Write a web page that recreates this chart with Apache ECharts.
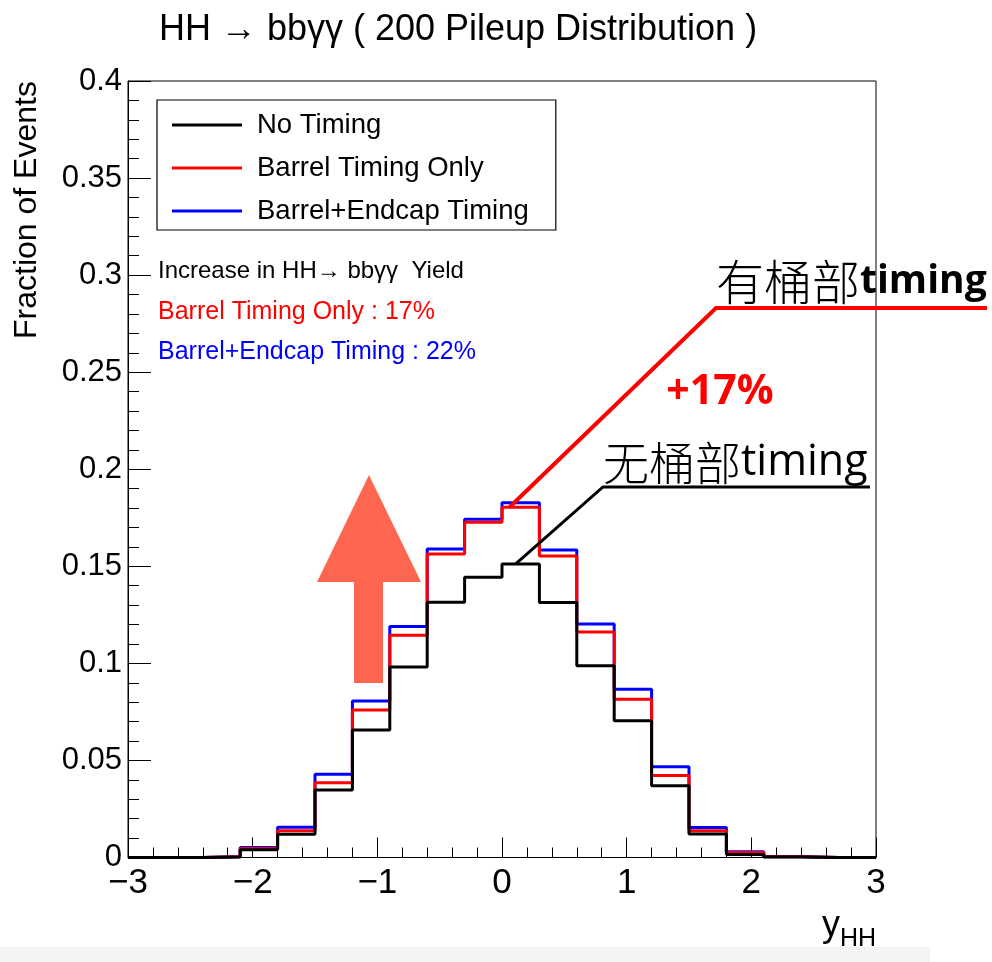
<!DOCTYPE html>
<html><head><meta charset="utf-8">
<script src="https://cdn.jsdelivr.net/npm/echarts@6/dist/echarts.min.js"></script>
<style>html,body{margin:0;padding:0;background:#fff}#c{width:992px;height:962px}</style>
</head><body><div id="c"></div>
<script>
// bin edges of y_HH histogram (width 0.3)
const binEdges = [-3,-2.7,-2.4,-2.1,-1.8,-1.5,-1.2,-0.9,-0.6,-0.3,0,0.3,0.6,0.9,1.2,1.5,1.8,2.1,2.4,2.7,3];
const noTiming     = [0,0,0.0003,0.0040,0.0120,0.0348,0.0657,0.0981,0.1315,0.1444,0.1512,0.1313,0.0988,0.0705,0.0370,0.0121,0.0016,0.0003,0,0];
const barrelOnly   = [0,0,0.0004,0.0047,0.0138,0.0385,0.0760,0.1145,0.1564,0.1727,0.1804,0.1553,0.1162,0.0815,0.0423,0.0138,0.0026,0.0004,0,0];
const barrelEndcap = [0,0,0.0005,0.0052,0.0156,0.0429,0.0806,0.1190,0.1589,0.1742,0.1828,0.1584,0.1203,0.0867,0.0468,0.0154,0.0030,0.0005,0,0];
const seriesNames  = ['No Timing','Barrel Timing Only','Barrel+Endcap Timing'];
const xTickLabels  = [-3,-2,-1,0,1,2,3];
const yTickLabels  = [0,0.05,0.1,0.15,0.2,0.25,0.3,0.35,0.4];

function stepData(vals){
  const d = vals.map((v,i)=>[binEdges[i], v]);
  d.push([binEdges[binEdges.length-1], vals[vals.length-1]]);
  return d;
}
const FONT = '"Liberation Sans", Arial, sans-serif';
const CJK = '"Noto Sans CJK SC", sans-serif';

const chart = echarts.init(document.getElementById('c'), null, {renderer:'canvas'});
const option = {
  animation:false,
  backgroundColor:'#fff',
  grid:{left:128, top:81, right:116, bottom:104.5, show:true, borderColor:'#000', borderWidth:1, backgroundColor:'transparent'},
  xAxis:{type:'value', min:-3, max:3, interval:1,
    axisLine:{show:true, onZero:false, lineStyle:{color:'#000', width:1}},
    axisTick:{show:true, inside:true, length:20, lineStyle:{color:'#000'}},
    minorTick:{show:true, splitNumber:5, length:10, lineStyle:{color:'#000'}},
    splitLine:{show:false},
    axisLabel:{color:'#000', fontFamily:FONT, fontSize:35, margin:8,
      formatter:v=> xTickLabels.includes(v) ? (v<0?'\u2212'+Math.abs(v):String(v)) : ''}
  },
  yAxis:{type:'value', min:0, max:0.4, interval:0.05,
    axisLine:{show:true, onZero:false, lineStyle:{color:'#000', width:1}},
    axisTick:{show:true, inside:true, length:23, lineStyle:{color:'#000'}},
    minorTick:{show:true, splitNumber:5, length:11, lineStyle:{color:'#000'}},
    splitLine:{show:false},
    axisLabel:{color:'#000', fontFamily:FONT, fontSize:31, margin:6,
      formatter:v=>{const r=Math.round(v*100)/100; return yTickLabels.includes(r)?String(r):'';}}
  },
  legend:{show:true, orient:'vertical', left:157, top:100,
    data:seriesNames, icon:'rect', itemWidth:70, itemHeight:3, itemGap:13,
    padding:[10,27,4,15], borderColor:'#000', borderWidth:1.2,
    textStyle:{fontFamily:FONT, fontSize:27.5, color:'#000', lineHeight:30, padding:[0,0,0,10]},
    selectedMode:false},
  series:[
    {name:seriesNames[2], type:'line', step:'end', symbol:'none', data:stepData(barrelEndcap),
     lineStyle:{color:'#0000ff', width:3}, itemStyle:{color:'#0000ff'}, z:2},
    {name:seriesNames[1], type:'line', step:'end', symbol:'none', data:stepData(barrelOnly),
     lineStyle:{color:'#ff0000', width:3}, itemStyle:{color:'#ff0000'}, z:3},
    {name:seriesNames[0], type:'line', step:'end', symbol:'none', data:stepData(noTiming),
     lineStyle:{color:'#000000', width:3}, itemStyle:{color:'#000000'}, z:4}
  ]
};
chart.setOption(option);

const pRed = chart.convertToPixel({gridIndex:0}, [0.06, barrelOnly[10]]);
const pBlk = chart.convertToPixel({gridIndex:0}, [0.11, noTiming[10]]);

chart.setOption({graphic:[
  {type:'rect', shape:{x:0,y:947,width:930,height:15}, style:{fill:'#f4f4f4'}, z:-10, silent:true},
  {type:'text', x:458, y:30, style:{text:'HH \u2192 bb\u03b3\u03b3 ( 200 Pileup Distribution )', font:'36px '+FONT, fill:'#000', align:'center', verticalAlign:'middle'}},
  {type:'text', x:27, y:210, rotation:Math.PI/2, style:{text:'Fraction of Events', font:'32px '+FONT, fill:'#000', align:'center', verticalAlign:'middle'}},
  {type:'text', x:822, y:926, style:{text:'{a|y}{b|HH}', align:'left', verticalAlign:'middle',
     rich:{a:{fontFamily:FONT, fontSize:36, color:'#000'}, b:{fontFamily:FONT, fontSize:25, color:'#000', padding:[26,0,0,0]}}}},
  {type:'text', x:158, y:271, style:{text:'Increase in HH\u2192 bb\u03b3\u03b3  Yield', font:'24px '+FONT, fill:'#000', align:'left', verticalAlign:'middle'}},
  {type:'text', x:158, y:312, style:{text:'Barrel Timing Only : 17%', font:'25px '+FONT, fill:'#ff0000', align:'left', verticalAlign:'middle'}},
  {type:'text', x:158, y:352, style:{text:'Barrel+Endcap Timing : 22%', font:'25px '+FONT, fill:'#0000ff', align:'left', verticalAlign:'middle'}},
  // big arrow
  {type:'polygon', shape:{points:[[369,475],[421,582],[383,582],[383,683],[354,683],[354,582],[317,582]]}, style:{fill:'#ff6650'}, z:10},
  // red annotation
  {type:'polyline', shape:{points:[pRed,[716,308],[987,308]]}, style:{stroke:'#ff0000', lineWidth:4, fill:null}, z:20},
  {type:'text', x:716, y:306, style:{text:'{c|有桶部}{t|timing}', align:'left', verticalAlign:'bottom',
     rich:{c:{fontFamily:CJK, fontSize:48, color:'#ff0000', fontWeight:300}, t:{fontFamily:'"Open Sans", '+FONT, fontSize:39, color:'#ff0000', fontWeight:'bold'}}}, z:20},
  {type:'text', x:720, y:392, style:{text:'+17%', font:'bold 41px "Open Sans", '+FONT, fill:'#ff0000', align:'center', verticalAlign:'middle'}, z:20},
  // black annotation
  {type:'polyline', shape:{points:[pBlk,[603,487],[870,487]]}, style:{stroke:'#000', lineWidth:3, fill:null}, z:20},
  {type:'text', x:603, y:486, style:{text:'{c|无桶部}{t|timing}', align:'left', verticalAlign:'bottom',
     rich:{c:{fontFamily:CJK, fontSize:46, color:'#000', fontWeight:300}, t:{fontFamily:'"Open Sans", '+FONT, fontSize:43, color:'#000'}}}, z:20}
]});
</script></body></html>
